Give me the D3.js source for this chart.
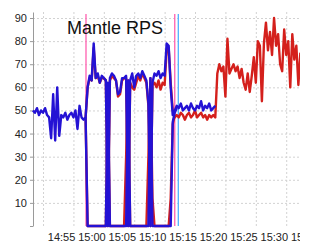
<!DOCTYPE html>
<html lang="en">
  <head>
    <meta charset="UTF-8" />
    <title>Mantle RPS</title>
    <script src="https://cdn.jsdelivr.net/npm/d3@7"></script>
    <style>
      html,
      body {
        margin: 0;
        padding: 0;
        background: #fff;
      }
      svg {
        display: block;
        font-family: 'Liberation Sans', Arial, sans-serif;
      }
    </style>
  </head>
  <body>
    <svg width="300" height="243"></svg>
    <script>
      // samples every 20s starting at 14:53:20
      const sampleStart = '14:53:20';
      const sampleEnd = '15:37:20';
      const sampleStepSec = 20;

      const xTickLabels = ['14:55', '15:00', '15:05', '15:10', '15:15', '15:20', '15:25', '15:30', '15:35'];
      const yTickValues = [0, 10, 20, 30, 40, 50, 60, 70, 80, 90];

      const pinkEvents = ['15:02:04', '15:16:40'];
      const cyanEvents = ['15:17:15'];

      // first sample index of each series
      const blueMainFrom = 0;
      const blueMain = [
        50, 49, 51, 48, 50, 49, 51, 48, 47, 38,
        57, 37, 60, 39, 48, 47, 49, 46, 48, 49,
        47, 50, 42, 52, 47, 46, 47, 60, 65, 63,
        79, 64, 66, 62, 65, 64, 63, 0, 64, 66,
        65, 63, 57, 58, 64, 64, 65, 0, 63, 66,
        60, 65, 66, 64, 67, 65, 63, 53, 0, 62,
        66, 65, 67, 64, 66, 65, 79, 78, 60, 48,
        50, 52, 51, 53, 50, 51, 52, 50, 53, 51,
        50, 52, 51, 54, 50, 52, 51, 53, 50, 51, 52
      ];

      const blueLowFrom = 26;
      const blueLow = [
        47, 0, 0, 0, 0, 0, 0, 0, 0, 0,
        0, 62, 0, 0, 0, 0, 0, 0, 0, 0,
        0, 63, 0, 0, 0, 0, 0, 0, 0, 0,
        0, 0, 64, 0, 0, 0, 0, 0, 0, 0,
        0, 0, 0, 45, 49, 51
      ];

      const redMainFrom = 26;
      const redMain = [
        47, 60, 64, 63, 77, 64, 65, 62, 64, 64,
        63, 0, 63, 65, 64, 63, 56, 57, 63, 64,
        64, 0, 62, 60, 59, 62, 65, 63, 66, 64,
        62, 52, 0, 61, 62, 60, 63, 59, 62, 61,
        76, 77, 62, 50, 47, 48, 47, 49, 48, 46,
        48, 49, 47, 48, 50, 47, 48, 49, 47, 48,
        46, 48, 47, 48, 47, 66, 70, 67, 69, 56,
        81, 66, 68, 70, 67, 69, 64, 68, 62, 59,
        66, 58, 65, 73, 62, 80, 78, 54, 79, 88,
        76, 84, 74, 90, 78, 83, 70, 67, 85, 74,
        80, 60, 83, 72, 78, 61, 75
      ];

      const redLowFrom = 26;
      const redLow = [
        47, 0, 0, 0, 0, 0, 0, 0, 0, 0,
        0, 60, 0, 0, 0, 0, 0, 0, 0, 0,
        30, 63, 0, 0, 0, 0, 0, 0, 0, 0,
        0, 30, 64, 12, 0, 0, 0, 0, 0, 0,
        0, 0, 12, 44, 48
      ];

      const parseTime = d3.timeParse('%H:%M:%S');
      const parseTick = d3.timeParse('%H:%M');
      const t0 = parseTime(sampleStart);

      function sampleTime(index) {
        return new Date(t0.getTime() + index * sampleStepSec * 1000);
      }

      const plotLeft = 33;
      const plotTop = 12;
      const plotBottom = 226;
      const plotRight = 300;

      const xScale = d3
        .scaleTime()
        .domain([t0, parseTime(sampleEnd)])
        .range([32.9, 300.4]);
      const yScale = d3
        .scaleLinear()
        .domain([0, 92.6])
        .range([plotBottom, plotTop]);

      const svg = d3.select('svg');

      // vertical grid + time labels
      const xAxis = d3
        .axisBottom(xScale)
        .tickValues(xTickLabels.map(parseTick))
        .tickSize(-(plotBottom - plotTop))
        .tickPadding(7)
        .tickFormat(d3.timeFormat('%H:%M'));

      const xAxisG = svg
        .append('g')
        .attr('transform', 'translate(0,' + plotBottom + ')')
        .call(xAxis);
      xAxisG.select('.domain').remove();
      xAxisG
        .selectAll('line')
        .attr('stroke', '#d2d2d2')
        .attr('stroke-dasharray', '2,2');
      xAxisG
        .selectAll('text')
        .attr('dx', 18)
        .attr('fill', '#222')
        .style('font-size', '11px')
        .style('font-family', "'Liberation Sans', Arial, sans-serif");

      // horizontal grid
      const yGrid = svg
        .append('g')
        .attr('transform', 'translate(' + plotLeft + ',0)')
        .call(
          d3
            .axisLeft(yScale)
            .tickValues(yTickValues.filter(d => d > 0))
            .tickSize(-(plotRight - plotLeft))
            .tickFormat('')
        );
      yGrid.select('.domain').remove();
      yGrid
        .selectAll('line')
        .attr('stroke', '#d2d2d2')
        .attr('stroke-dasharray', '2,2');

      // y axis
      const yAxisG = svg
        .append('g')
        .attr('transform', 'translate(' + plotLeft + ',0)')
        .call(
          d3
            .axisLeft(yScale)
            .tickValues(yTickValues)
            .tickSize(3)
            .tickSizeOuter(0)
            .tickPadding(3)
            .tickFormat(d => (d === 0 ? '' : d))
        );
      yAxisG.select('.domain').attr('stroke', '#9a9a9a');
      yAxisG.selectAll('line').attr('stroke', '#9a9a9a');
      yAxisG
        .selectAll('text')
        .attr('fill', '#222')
        .style('font-size', '11px')
        .style('font-family', "'Liberation Sans', Arial, sans-serif");

      // event markers
      svg
        .selectAll('line.pink-event')
        .data(pinkEvents)
        .enter()
        .append('line')
        .attr('class', 'pink-event')
        .attr('x1', d => xScale(parseTime(d)))
        .attr('x2', d => xScale(parseTime(d)))
        .attr('y1', plotTop + 2)
        .attr('y2', plotBottom)
        .attr('stroke', '#ff5fb0')
        .attr('stroke-width', 1.3);
      svg
        .selectAll('line.cyan-event')
        .data(cyanEvents)
        .enter()
        .append('line')
        .attr('class', 'cyan-event')
        .attr('x1', d => xScale(parseTime(d)))
        .attr('x2', d => xScale(parseTime(d)))
        .attr('y1', plotTop + 2)
        .attr('y2', plotBottom)
        .attr('stroke', '#4fb2ff')
        .attr('stroke-width', 1.3);

      function lineFrom(start) {
        return d3
          .line()
          .x((d, i) => xScale(sampleTime(start + i)))
          .y(d => yScale(d));
      }

      const series = [
        { values: redMain, from: redMainFrom, color: '#d4201c' },
        { values: redLow, from: redLowFrom, color: '#d4201c' },
        { values: blueMain, from: blueMainFrom, color: '#2412d4' },
        { values: blueLow, from: blueLowFrom, color: '#2412d4' }
      ];

      svg
        .selectAll('path.series')
        .data(series)
        .enter()
        .append('path')
        .attr('class', 'series')
        .attr('d', s => lineFrom(s.from)(s.values))
        .attr('fill', 'none')
        .attr('stroke', s => s.color)
        .attr('stroke-width', 2.4)
        .attr('stroke-linejoin', 'round');

      svg
        .append('text')
        .attr('x', 67)
        .attr('y', 34)
        .attr('fill', '#111')
        .style('font-size', '18px')
        .text('Mantle RPS');
    </script>
  </body>
</html>
